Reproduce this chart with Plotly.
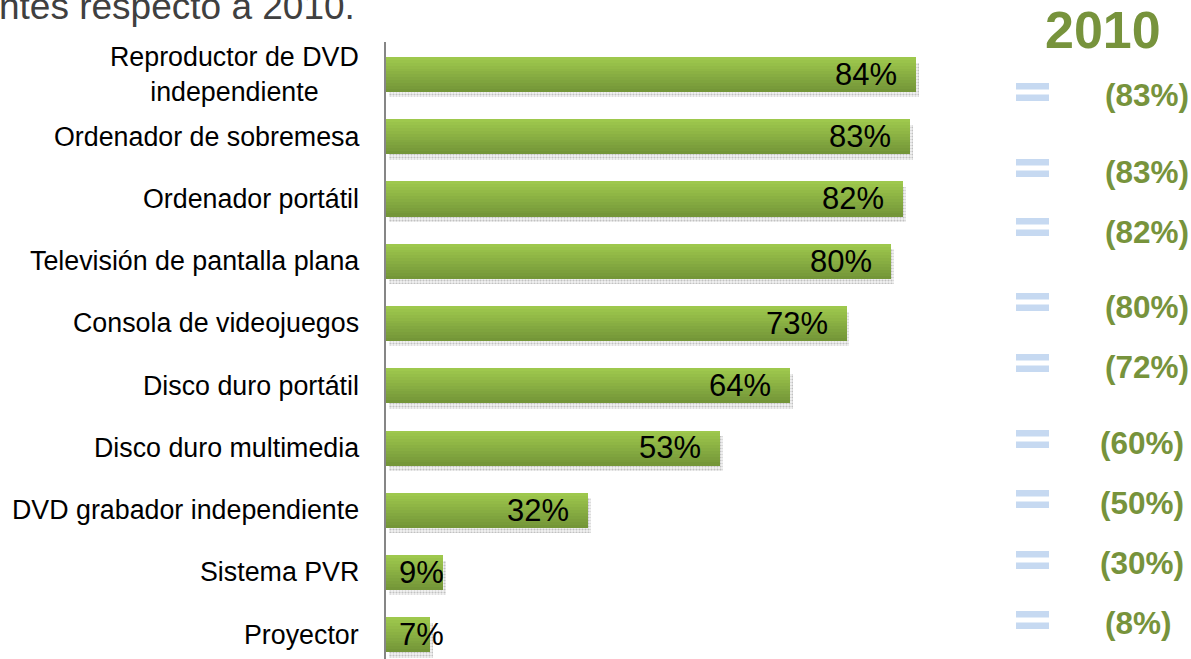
import plotly.graph_objects as go

# --- data -------------------------------------------------------------
categories = [
    "Reproductor de DVD<br>independiente",
    "Ordenador de sobremesa",
    "Ordenador portátil",
    "Televisión de pantalla plana",
    "Consola de videojuegos",
    "Disco duro portátil",
    "Disco duro multimedia",
    "DVD grabador independiente",
    "Sistema PVR",
    "Proyector",
]
values_2011 = [84, 83, 82, 80, 73, 64, 53, 32, 9, 7]
values_2010 = [83, 83, 82, 80, 72, 60, 50, 30, 8]
title_text = "ntes respecto a 2010."
year_label = "2010"

# --- page geometry (pixels) -------------------------------------------
W, H = 1191, 659
FONT = "Arial, Liberation Sans, sans-serif"
GREEN_TEXT = "#77933c"
EQ_BLUE = "#c6d9f1"


def px(x):
    return x / W


def py(y):
    return 1 - y / H


BAR_W = 0.56
TOP_COLOR = (0x9e, 0xc8, 0x4d)
BOT_COLOR = (0x74, 0x96, 0x38)

fig = go.Figure()

# soft dotted shadow under each bar
fig.add_trace(go.Bar(
    y=categories, x=values_2011, orientation="h",
    base=0.45, width=BAR_W, offset=-BAR_W / 2 + 0.09,
    marker=dict(
        color="white",
        line=dict(width=0),
        pattern=dict(shape=".", fgcolor="#8f8f8f", bgcolor="#f2f2f2",
                     size=3, solidity=0.4),
    ),
    hoverinfo="skip", showlegend=False,
))

# base bar in the mid tone
mid = tuple((a + b) // 2 for a, b in zip(TOP_COLOR, BOT_COLOR))
fig.add_trace(go.Bar(
    y=categories, x=values_2011, orientation="h",
    width=BAR_W, offset=-BAR_W / 2,
    marker=dict(color="rgb(%d,%d,%d)" % mid, line=dict(width=0)),
    showlegend=False, hovertemplate="%{y}: %{x}%<extra></extra>",
))

# vertical gradient built from thin horizontal strips
N = 12
strip = BAR_W / N
for i in range(N):
    t = i / (N - 1)
    c = tuple(round(a + (b - a) * t) for a, b in zip(TOP_COLOR, BOT_COLOR))
    fig.add_trace(go.Bar(
        y=categories, x=values_2011, orientation="h",
        width=strip + 0.004, offset=-BAR_W / 2 + i * strip,
        marker=dict(color="rgb(%d,%d,%d)" % c, line=dict(width=0)),
        hoverinfo="skip", showlegend=False,
    ))

annotations = []

# category labels left of the axis
for cat in categories:
    annotations.append(dict(
        xref="paper", yref="y", x=px(361), y=cat,
        xanchor="right", yanchor="middle", align="center",
        text=cat, showarrow=False,
        font=dict(family=FONT, size=26.8, color="#000000"),
    ))

# value labels inside the bar end
for cat, v in zip(categories, values_2011):
    if v >= 15:
        pos = dict(x=v, xanchor="right", xshift=-17)
    else:
        pos = dict(x=0, xanchor="left", xshift=11)
    annotations.append(dict(
        xref="x", yref="y", y=cat, yanchor="middle",
        text=f"{v}%", showarrow=False,
        font=dict(family=FONT, size=31, color="#000000"),
        **pos,
    ))

# heading text (partly above the page)
annotations.append(dict(
    xref="paper", yref="paper", x=px(-3), y=py(29),
    xanchor="left", yanchor="bottom",
    text=title_text, showarrow=False,
    font=dict(family=FONT, size=37, color="#404040"),
))

# "2010" column heading
annotations.append(dict(
    xref="paper", yref="paper", x=px(1103), y=py(30),
    xanchor="center", yanchor="middle",
    text=f"<b>{year_label}</b>", showarrow=False,
    font=dict(family=FONT, size=52, color=GREEN_TEXT),
))

# previous-year values and "=" markers
text_y = [95, 172, 232, 307, 367, 443, 503, 563, 623]
text_x = [1103, 1103, 1103, 1103, 1103, 1098, 1098, 1098, 1103]
eq_y = [92, 168, 227, 302, 363, 439, 499, 560, 620]
shapes = []
for v, tx, ty, ey in zip(values_2010, text_x, text_y, eq_y):
    annotations.append(dict(
        xref="paper", yref="paper", x=px(tx), y=py(ty),
        xanchor="left", yanchor="middle",
        text=f"<b>({v}%)</b>", showarrow=False,
        font=dict(family=FONT, size=31.5, color=GREEN_TEXT),
    ))
    for y0, y1 in ((ey - 9, ey - 2.5), (ey + 2.5, ey + 9)):
        shapes.append(dict(
            type="rect", xref="paper", yref="paper",
            x0=px(1016), x1=px(1049), y0=py(y1), y1=py(y0),
            fillcolor=EQ_BLUE, line=dict(width=0),
        ))

fig.update_layout(
    width=W, height=H,
    margin=dict(l=0, r=0, t=0, b=0),
    paper_bgcolor="white", plot_bgcolor="white",
    barmode="overlay", bargap=0,
    showlegend=False,
    annotations=annotations,
    shapes=shapes,
    xaxis=dict(
        domain=[px(386), px(386 + 631)], range=[0, 100],
        showgrid=False, zeroline=False, showticklabels=False,
        showline=False, ticks="",
    ),
    yaxis=dict(
        domain=[0, py(42)],
        type="category", categoryorder="array", categoryarray=categories,
        range=[9.39, -0.52],
        showgrid=False, zeroline=False, showticklabels=False, ticks="",
        showline=True, linecolor="#868686", linewidth=2,
    ),
)

fig.write_html("out.html")
